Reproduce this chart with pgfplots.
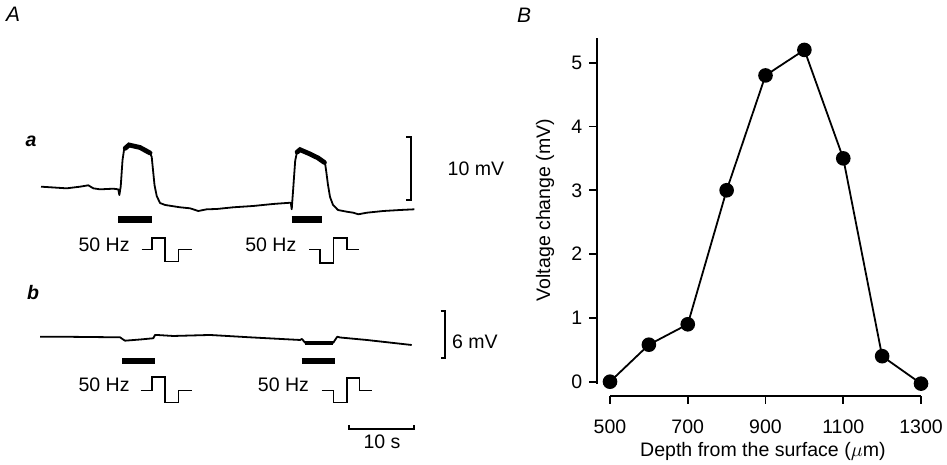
\documentclass[border=0pt]{standalone}
\usepackage{pgfplots}
\pgfplotsset{compat=1.18}
\usepackage{fontspec}
\setmainfont{Liberation Sans}

% trace a (time in s, voltage in mV)
\pgfplotstableread{
t v
0 2.11
1.38 2.02
3.95 1.85
6.0 2.11
7.28 2.33
8.05 1.85
9.08 1.69
11.12 1.79
11.89 1.69
12.05 0.79
12.26 2.11
12.54 6.35
12.77 7.94
13.08 8.25
13.54 8.73
15.23 8.33
16.77 7.46
17.03 6.83
17.23 4.76
17.46 2.38
17.8 0.63
18.31 -0.48
19.08 -0.79
21.38 -1.16
22.92 -1.32
24.2 -1.75
25.49 -1.48
27.03 -1.43
29.58 -1.16
32.66 -0.95
35.74 -0.63
38.42 -0.43
38.57 -1.48
38.82 2.11
39.1 6.2
39.38 7.62
39.85 7.98
41.38 7.30
42.62 6.67
43.69 5.87
43.85 4.76
44.15 2.38
44.46 0.48
44.92 -0.79
45.69 -1.59
47.03 -1.86
48.05 -2.02
48.82 -2.27
50.11 -2.02
52.66 -1.75
55.23 -1.59
57.43 -1.48
}\tracea

% trace b
\pgfplotstableread{
t v
-0.15 2.68
5.0 2.66
12.15 2.60
12.92 2.17
15.23 2.32
17.28 2.48
17.54 2.90
17.85 2.90
20.35 2.77
26.0 2.90
32.15 2.60
39.85 2.26
40.15 2.39
40.62 1.91
44.97 1.91
45.23 2.26
45.58 2.68
46.0 2.58
50.11 2.26
57.03 1.62
}\traceb

\pgfplotsset{
  trace/.style={hide axis, scale only axis, clip=false,
    width=260bp, xmin=-6.31, xmax=73.69},
  sig/.style={black, line width=0.9bp, line join=round},
}

\begin{document}
\fontsize{9.8}{11.5}\selectfont
\begin{tikzpicture}[x=0.5bp, y=0.5bp]
\useasboundingbox (0,0) rectangle (947,465);

\node[font=\itshape\fontsize{10.5}{12}\selectfont] at (13,451) {A};
\node[font=\itshape\fontsize{10.5}{12}\selectfont] at (524,450) {B};

% ---- panel A, trace a ----
\begin{axis}[trace, at={(0bp,97.5bp)}, anchor=south west,
  height=70bp, ymin=-11.11, ymax=11.11]
  \addplot[sig] table {\tracea};
  % noisy plateaus
  \addplot[black, line width=2.4bp, line cap=round] coordinates {(12.95,8.2) (13.54,8.73) (15.23,8.33) (16.77,7.46)};
  \addplot[black, line width=2.4bp, line cap=round] coordinates {(39.4,7.6) (39.85,7.98) (41.38,7.30) (42.62,6.67) (43.6,5.95)};
  % stimulus bars
  \addplot[black, line width=3.5bp] coordinates {(11.89,-3.13) (17.03,-3.13)};
  \addplot[black, line width=3.5bp] coordinates {(38.57,-3.13) (43.18,-3.13)};
  % pulse symbols
  \addplot[black, line width=0.8bp] coordinates {(15.49,-7.83) (17.03,-7.83) (17.03,-6.08) (19.08,-6.08) (19.08,-9.79) (21.12,-9.79) (21.12,-7.83) (23.18,-7.83)};
  \addplot[black, line width=0.8bp] coordinates {(41.28,-7.83) (42.92,-7.83) (42.92,-10.0) (44.97,-10.0) (44.97,-6.08) (47.03,-6.08) (47.03,-7.83) (48.97,-7.83)};
  % 10 mV calibration
  \addplot[black, line width=0.9bp] coordinates {(56.15,10.05) (56.88,10.05) (56.88,0) (56.15,0)};
  \node[anchor=west, inner sep=0] at (axis cs:62.5,5) {10 mV};
  \node[anchor=east, inner sep=0] at (axis cs:13.69,-7.14) {50 Hz};
  \node[anchor=east, inner sep=0] at (axis cs:39.34,-7.14) {50 Hz};
  \node[font=\bfseries\itshape] at (axis cs:-1.54,9.36) {a};
\end{axis}

% ---- panel A, trace b ----
\begin{axis}[trace, at={(0bp,0bp)}, anchor=south west,
  height=92.5bp, ymin=-13.70, ymax=9.92]
  \addplot[sig] table {\traceb};
  \addplot[black, line width=1.8bp] coordinates {(40.62,1.85) (44.97,1.85)};
  % stimulus bars
  \addplot[black, line width=3.2bp] coordinates {(12.51,-0.40) (17.54,-0.40)};
  \addplot[black, line width=3.2bp] coordinates {(40.11,-0.40) (45.23,-0.40)};
  % pulse symbols
  \addplot[black, line width=0.8bp] coordinates {(15.34,-4.21) (17.03,-4.21) (17.03,-2.50) (19.08,-2.50) (19.08,-5.74) (21.12,-5.74) (21.12,-4.21) (23.18,-4.21)};
  \addplot[black, line width=0.8bp] coordinates {(43.18,-4.21) (44.97,-4.21) (44.97,-5.74) (47.03,-5.74) (47.03,-2.63) (48.97,-2.63) (48.97,-4.21) (50.88,-4.21)};
  % 6 mV calibration
  \addplot[black, line width=0.9bp] coordinates {(61.49,6.0) (62.15,6.0) (62.15,0) (61.49,0)};
  % 10 s calibration
  \addplot[black, line width=0.9bp] coordinates {(47.43,-8.59) (47.43,-9.14) (57.43,-9.14) (57.43,-8.59)};
  \node[anchor=west, inner sep=0] at (axis cs:63.18,2.0) {6 mV};
  \node[anchor=east, inner sep=0] at (axis cs:13.69,-3.49) {50 Hz};
  \node[anchor=east, inner sep=0] at (axis cs:41.28,-3.49) {50 Hz};
  \node at (axis cs:52.46,-10.72) {10 s};
  \node[font=\bfseries\itshape] at (axis cs:-1.23,8.26) {b};
\end{axis}

% ---- panel B ----
\begin{axis}[at={(298.5bp,34.65bp)}, anchor=south west, scale only axis,
  width=162bp, height=178.85bp, clip=false,
  xmin=466.6, xmax=1300, ymin=-0.219, ymax=5.387,
  axis x line*=bottom, axis y line*=left,
  axis line style={draw=none},
  xtick={500,700,900,1100,1300}, ytick={0,1,2,3,4,5},
  tick align=outside, major tick length=4bp,
  every tick/.style={black, line width=0.9bp},
  /pgf/number format/assume math mode=true,
  /pgf/number format/set thousands separator={},
  xticklabel style={yshift=-4.5bp},
  ticklabel style={font=\fontsize{9.8}{11.5}\selectfont},
  xlabel={Depth from the surface ($\mu$m)},
  ylabel={Voltage change (mV)},
  xlabel style={at={(axis description cs:0.512,-0.157)}, anchor=center},
  ylabel style={at={(axis description cs:-0.160,0.519)}, anchor=center},
]
  \addplot[black, line width=1bp] coordinates {(466.6,-0.03) (466.6,5.387)};
  \addplot[black, line width=1bp] coordinates {(500,-0.219) (1300,-0.219)};
  \addplot[black, line width=0.9bp, mark=*, mark size=3.2bp,
    mark options={fill=black}] coordinates {
    (500,0) (600,0.58) (700,0.9) (800,3.0) (900,4.8)
    (1000,5.2) (1100,3.5) (1200,0.4) (1300,-0.03)};
\end{axis}
\end{tikzpicture}
\end{document}
